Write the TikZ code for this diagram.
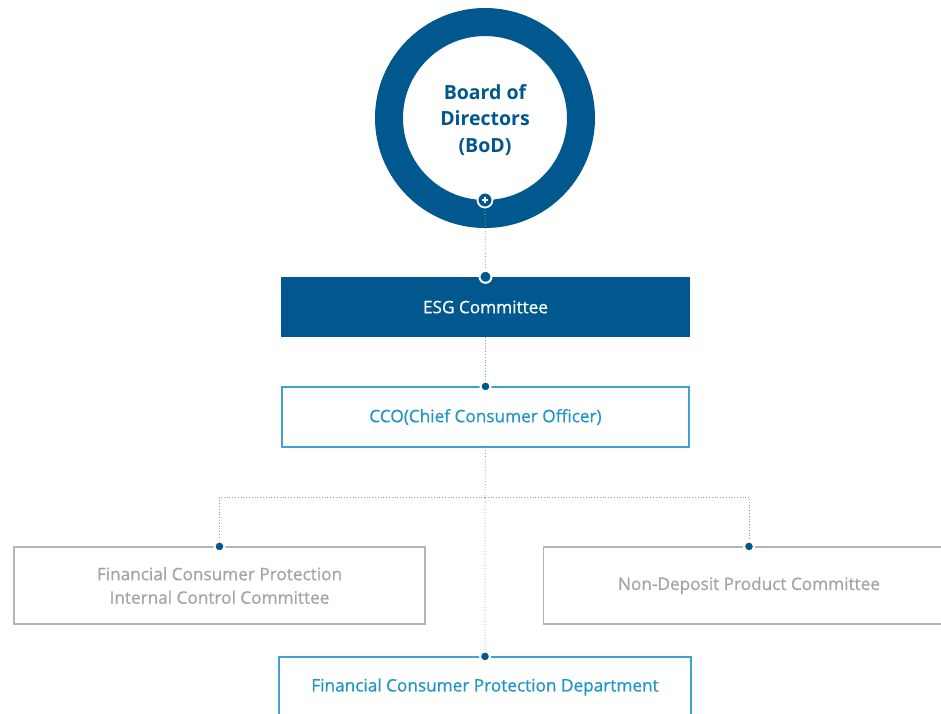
\documentclass[tikz,border=0pt]{standalone}
\usepackage{fontspec}
\setmainfont{Open Sans}
\newfontfamily\medfont[FakeBold=0.6]{Open Sans}
\definecolor{navy}{HTML}{01588F}
\definecolor{skyline}{HTML}{3DA4D2}
\definecolor{skytext}{HTML}{1F95C8}
\definecolor{greyline}{HTML}{B4B4B4}
\definecolor{greytext}{HTML}{A4A4A4}
\definecolor{dotline}{HTML}{9A9A9A}
\begin{document}
\begin{tikzpicture}[x=1pt,y=-1pt,
  conn/.style={draw=dotline,line width=0.8pt,dotted},
  boxbase/.style={rectangle,minimum height=60pt,inner sep=0pt,align=center,font=\medfont\fontsize{17.2}{23.5}\selectfont},
  esgbox/.style={boxbase,fill=navy,text=white,minimum width=409pt},
  bluebox/.style={boxbase,draw=skyline,line width=1.2pt,fill=white,text=skytext,minimum width=407pt},
  greybox/.style={boxbase,draw=greyline,line width=1.2pt,fill=white,text=greytext,minimum width=411pt,minimum height=77pt},
  dotm/.style={circle,fill=navy,draw=white,line width=2pt,minimum size=10pt,inner sep=0pt},
  ring/.style={circle,draw=navy,line width=28pt,minimum size=192pt,inner sep=0pt,align=center,text=navy,font=\fontsize{19.5}{26.5}\selectfont\bfseries}
]
\useasboundingbox (0,0) rectangle (941,713);
\clip (0,0) rectangle (941,713);
\fill[white] (0,0) rectangle (941,713);

% nodes
\node[ring] (bod) at (485,118) {};
\node[text=navy,align=center,font=\fontsize{19.5}{26.5}\selectfont\bfseries] (bodtext) at (485,120) {Board of\\Directors\\(BoD)};
\coordinate (boddot) at (485,200);
\node[esgbox] (esg) at (485.5,307) {ESG Committee};
\node[bluebox] (cco) at (485.5,417) {CCO(Chief Consumer Officer)};
\node[greybox] (fcpic) at (219.5,585.5) {Financial Consumer Protection\\Internal Control Committee};
\node[greybox] (ndpc) at (749,585.5) {Non-Deposit Product Committee};
\node[bluebox,minimum width=412pt] (fcpd) at (485,687) {Financial Consumer Protection Department};
\coordinate (hub) at (485,497);

% connectors
\draw[conn] (boddot) -- (esg.north);
\draw[conn] (esg.south) -- (cco.north);
\draw[conn] (cco.south) -- (hub) -- (fcpd.north);
\draw[conn] (hub) -| (fcpic.north);
\draw[conn] (hub) -| (ndpc.north);

% markers
\node[circle,fill=navy,draw=white,line width=1.8pt,minimum size=15pt,inner sep=0pt] (plus) at (boddot) {};
\draw[white,line width=1.1pt] ([xshift=-2.6pt]plus.center) -- ([xshift=2.6pt]plus.center)
  ([yshift=-2.6pt]plus.center) -- ([yshift=2.6pt]plus.center);
\node[dotm,minimum size=12pt] (d1) at (esg.north) {};
\node[dotm] (d2) at (cco.north) {};
\node[dotm] (d3) at (fcpic.north) {};
\node[dotm] (d4) at (ndpc.north) {};
\node[dotm] (d5) at (fcpd.north) {};
\end{tikzpicture}
\end{document}
